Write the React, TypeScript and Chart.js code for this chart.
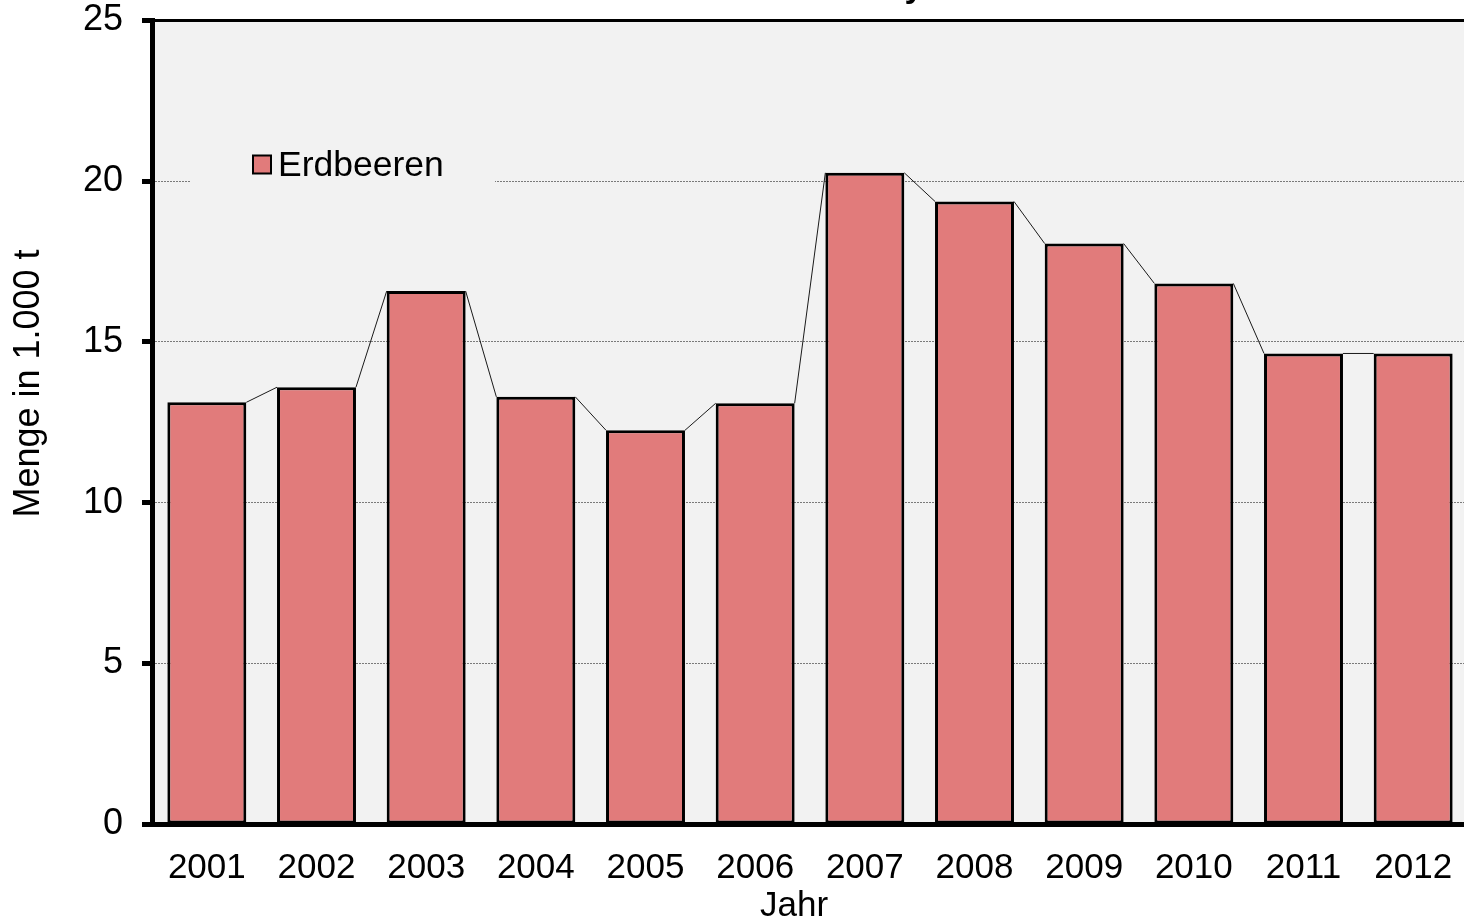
import React, { useEffect, useRef } from "react";
import { Chart, registerables } from "chart.js";

Chart.register(...registerables);

const chartTitle = "Erdbeeren in Bayern";
const seriesName = "Erdbeeren";
const xAxisTitle = "Jahr";
const yAxisTitle = "Menge in 1.000 t";
const years = ["2001", "2002", "2003", "2004", "2005", "2006", "2007", "2008", "2009", "2010", "2011", "2012"];
const erdbeeren = [13.12, 13.59, 16.58, 13.29, 12.25, 13.09, 20.26, 19.37, 18.06, 16.82, 14.64, 14.64];
const yMin = 0;
const yMax = 25;
const yStep = 5;

const FONT = "'Liberation Sans', Arial, Helvetica, sans-serif";
const BAR_COLOR = "#E17B7B";
const PLOT_BG = "#F2F2F2";
const W = 1468;
const H = 923;

export default function App() {
  const ref = useRef<HTMLCanvasElement>(null);

  useEffect(() => {
    const canvas = ref.current;
    if (!canvas) return;

    const plotBg = {
      id: "plotBg",
      beforeDraw(chart: any) {
        const { ctx, chartArea: a } = chart;
        ctx.save();
        ctx.fillStyle = PLOT_BG;
        ctx.fillRect(a.left, a.top, a.right - a.left, a.bottom - a.top);
        ctx.restore();
      },
    };

    const seriesLines = {
      id: "seriesLines",
      beforeDatasetsDraw(chart: any) {
        const meta = chart.getDatasetMeta(0);
        const els = meta.data;
        const ctx = chart.ctx;
        ctx.save();
        ctx.strokeStyle = "#1a1a1a";
        ctx.lineWidth = 1;
        for (let i = 0; i < els.length - 1; i++) {
          const a = els[i].getProps(["x", "y", "width"], true);
          const b = els[i + 1].getProps(["x", "y", "width"], true);
          ctx.beginPath();
          ctx.moveTo(a.x + a.width / 2, a.y);
          ctx.lineTo(b.x - b.width / 2, b.y);
          ctx.stroke();
        }
        ctx.restore();
      },
    };

    const overlay = {
      id: "overlay",
      afterDraw(chart: any) {
        const { ctx, chartArea: a } = chart;
        ctx.save();
        // top frame line
        ctx.strokeStyle = "#000";
        ctx.lineWidth = 3;
        ctx.beginPath();
        ctx.moveTo(a.left, a.top);
        ctx.lineTo(a.right, a.top);
        ctx.stroke();

        // legend (inside plot)
        const lx = a.left + 38;
        const ly = a.top + 125;
        ctx.fillStyle = PLOT_BG;
        ctx.fillRect(lx, ly, 305, 50);
        const bx = a.left + 101;
        const by = a.top + 135;
        ctx.fillStyle = BAR_COLOR;
        ctx.fillRect(bx, by, 18, 18);
        ctx.strokeStyle = "#000";
        ctx.lineWidth = 2;
        ctx.strokeRect(bx, by, 18, 18);
        ctx.fillStyle = "#000";
        ctx.font = `35.5px ${FONT}`;
        ctx.textAlign = "left";
        ctx.textBaseline = "middle";
        ctx.fillText(chart.data.datasets[0].label, a.left + 126, a.top + 146);

        // y axis title
        ctx.save();
        ctx.translate(29, a.top + 363);
        ctx.rotate(-Math.PI / 2);
        ctx.font = `36px ${FONT}`;
        ctx.textAlign = "center";
        ctx.textBaseline = "middle";
        ctx.fillText(yAxisTitle, 0, 0);
        ctx.restore();

        // x axis title
        ctx.font = `35px ${FONT}`;
        ctx.textAlign = "center";
        ctx.textBaseline = "middle";
        ctx.fillText(xAxisTitle, a.left + 642, a.bottom + 82);

        // chart title (mostly above the visible area)
        ctx.font = `bold 34px ${FONT}`;
        ctx.textAlign = "center";
        ctx.textBaseline = "alphabetic";
        ctx.fillText(chartTitle, (a.left + a.right) / 2, -3);
        ctx.restore();
      },
    };

    const chart = new Chart(canvas, {
      type: "bar",
      data: {
        labels: years,
        datasets: [
          {
            label: seriesName,
            data: erdbeeren,
            backgroundColor: BAR_COLOR,
            borderColor: "#000",
            borderWidth: 3,
            borderSkipped: false,
            barPercentage: 0.72,
            categoryPercentage: 1,
          },
        ],
      },
      options: {
        responsive: false,
        animation: false,
        devicePixelRatio: 1,
        layout: { padding: { top: 0, right: 0, bottom: 0, left: 0 } },
        plugins: {
          legend: { display: false },
          title: { display: false },
          tooltip: { enabled: false },
        },
        scales: {
          x: {
            afterFit: (s: any) => {
              s.height = 99;
              s.paddingLeft = 0;
              s.paddingRight = 0;
            },
            grid: { display: true, drawOnChartArea: false, drawTicks: false, color: "rgba(0,0,0,0)" },
            border: { display: true, color: "#000", width: 5 },
            ticks: {
              color: "#000",
              padding: 23,
              font: { family: FONT, size: 35 },
              maxRotation: 0,
              autoSkip: false,
            },
            title: { display: false },
          },
          y: {
            min: yMin,
            max: yMax,
            afterFit: (s: any) => {
              s.width = 152;
              s.paddingTop = 20.5;
              s.paddingBottom = 0;
            },
            grid: {
              color: (c: any) =>
                c.tick && (c.tick.value === yMin || c.tick.value === yMax) ? "rgba(0,0,0,0)" : "#7a7a7a",
              lineWidth: 1,
              drawTicks: true,
              tickLength: 10,
              tickWidth: 5,
              tickColor: "#000",
            },
            border: { display: true, color: "#000", width: 5, dash: [2, 1] },
            ticks: {
              stepSize: yStep,
              color: "#000",
              padding: 19,
              font: { family: FONT, size: 36 },
            },
            title: { display: false },
          },
        },
      },
      plugins: [plotBg, seriesLines, overlay],
    });

    return () => chart.destroy();
  }, []);

  return (
    <div style={{ position: "fixed", left: 0, top: 0, width: 1464, height: 923, overflow: "hidden", background: "#fff" }}>
      <canvas ref={ref} width={W} height={H} style={{ width: W, height: H, display: "block" }} />
    </div>
  );
}
